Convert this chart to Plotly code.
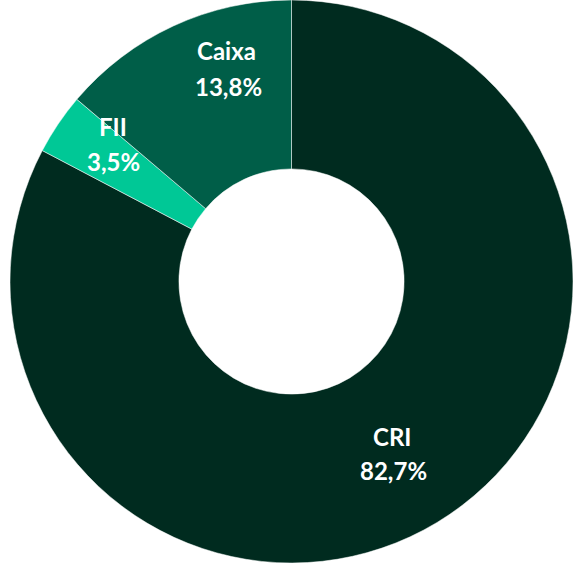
import plotly.graph_objects as go

labels = ["CRI", "FII", "Caixa"]
values = [82.7, 3.5, 13.8]
value_text = ["82,7%", "3,5%", "13,8%"]
colors = ["#002B1F", "#00C896", "#005E48"]

W, H = 573, 563
# label placement (pixel centres of name line and value line) for each category
label_pos = {
    "CRI": ((392, 436), (393, 470)),
    "FII": ((113, 127), (113, 161)),
    "Caixa": ((226, 51), (228, 86)),
}

fig = go.Figure(go.Pie(
    labels=labels,
    values=values,
    sort=False,
    direction="clockwise",
    rotation=0,
    hole=0.40,
    marker=dict(colors=colors, line=dict(color="#FFFFFF", width=0.5)),
    textinfo="none",
    hoverinfo="label+percent",
    showlegend=False,
    domain=dict(x=[10 / W, 1], y=[0, 1]),
))

font = dict(family="Lato, Carlito, sans-serif", size=24, color="#FFFFFF")
for lab, txt in zip(labels, value_text):
    (x1, y1), (x2, y2) = label_pos[lab]
    for s, (px, py) in ((lab, (x1, y1)), (txt, (x2, y2))):
        fig.add_annotation(
            x=px / W, y=1 - py / H, xref="paper", yref="paper",
            xanchor="center", yanchor="middle",
            text=f"<b>{s}</b>", showarrow=False, font=font,
        )

fig.update_layout(
    width=W, height=H,
    margin=dict(l=0, r=0, t=0, b=0),
    paper_bgcolor="#FFFFFF",
    plot_bgcolor="#FFFFFF",
)

fig.write_html("out.html", config={"displayModeBar": False},
               post_script="document.body.style.margin='0';")
